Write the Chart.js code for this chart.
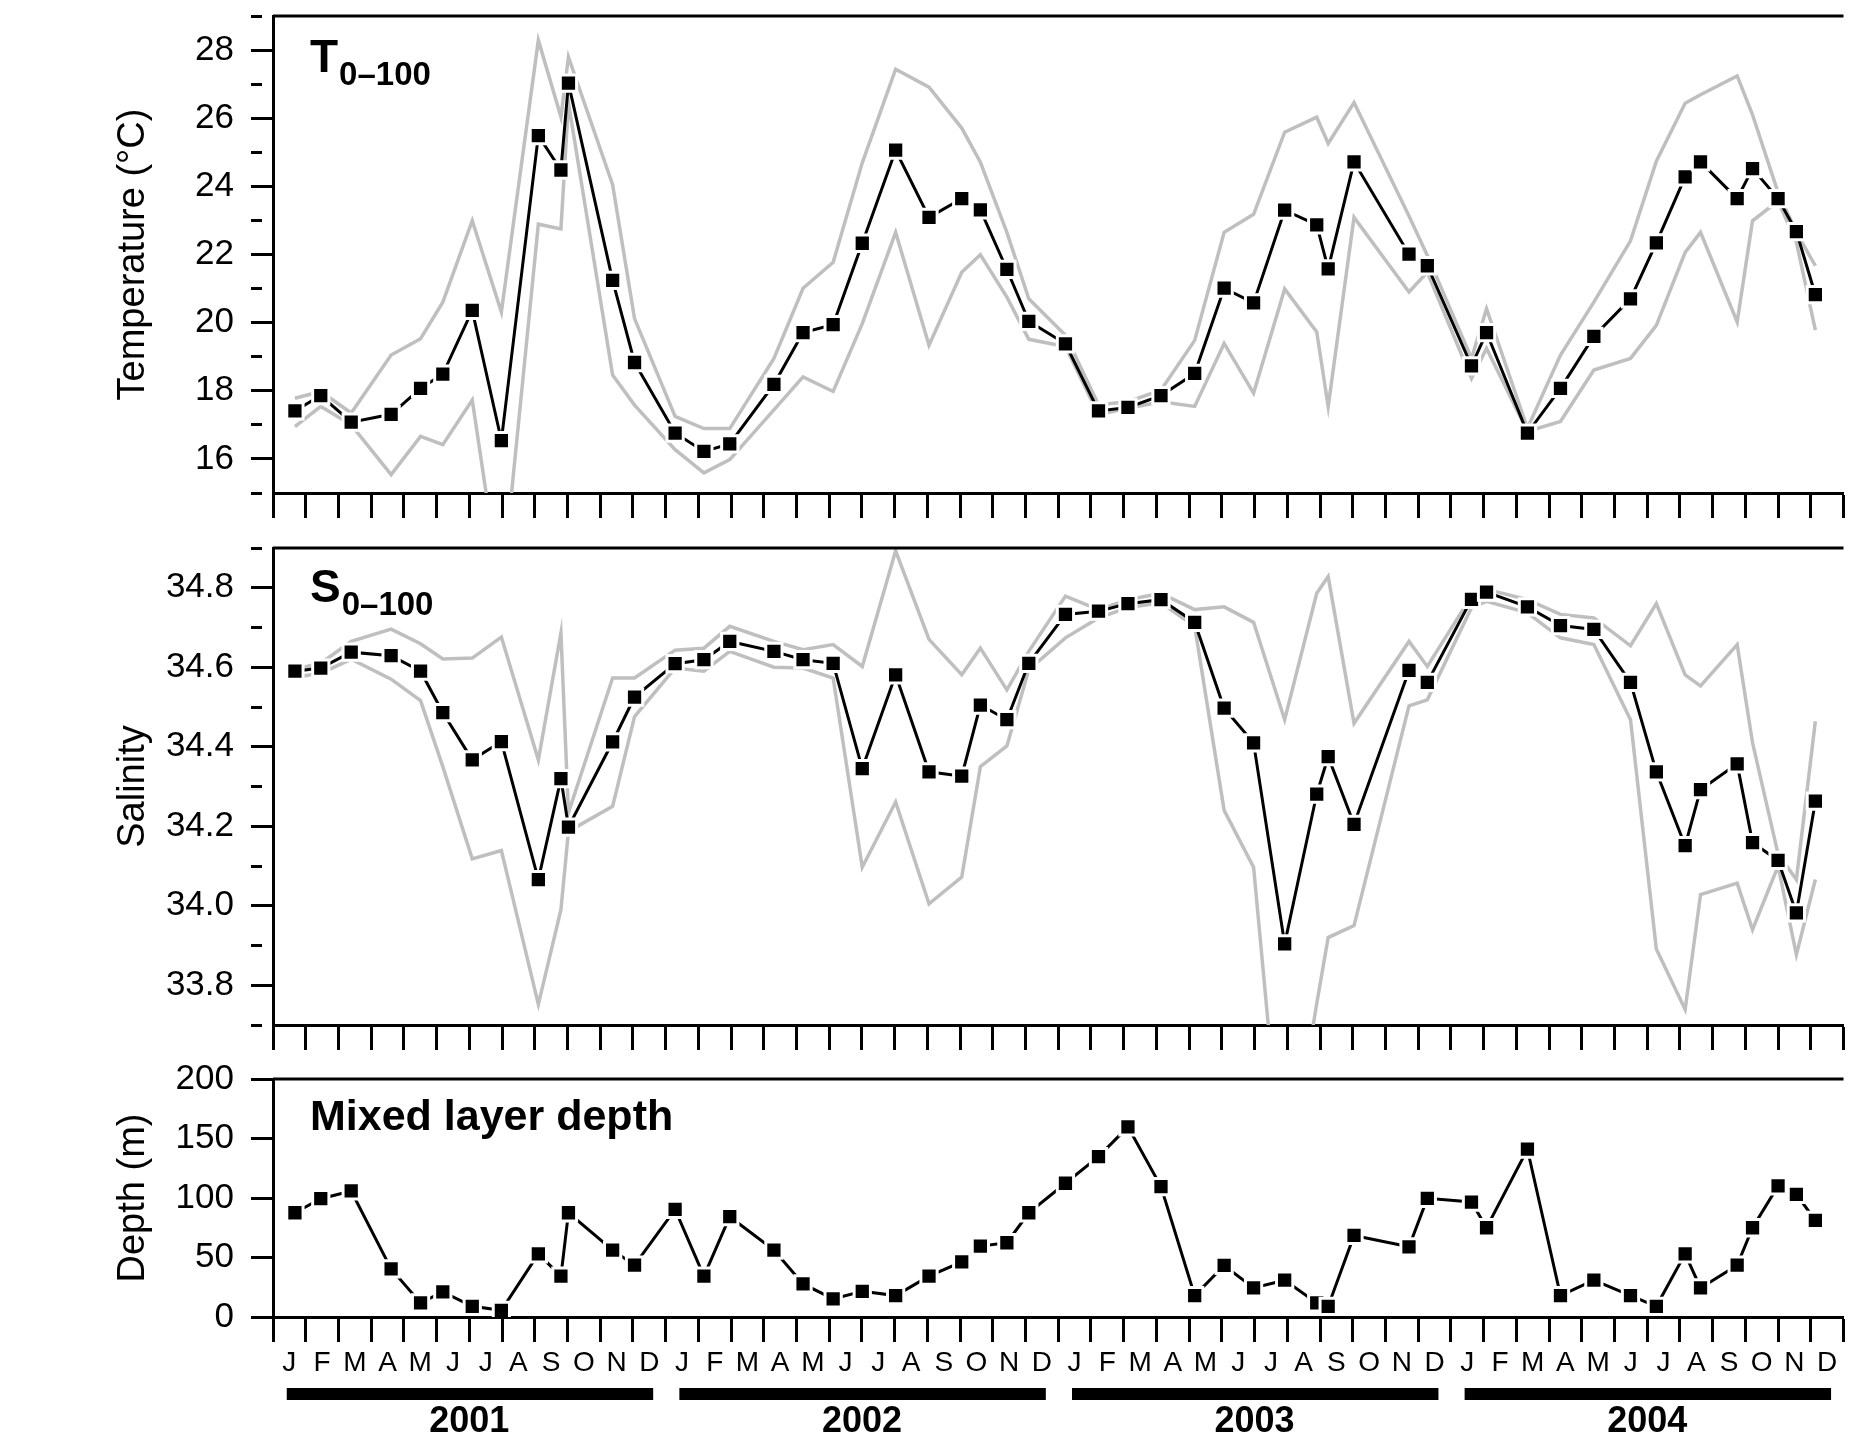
<!DOCTYPE html>
<html>
<head>
<meta charset="utf-8">
<script src="https://cdn.jsdelivr.net/npm/chart.js@4.4.0/dist/chart.umd.min.js"></script>
<style>
  html, body { margin: 0; padding: 0; background: #fff; }
  #wrap { position: relative; width: 1858px; height: 1440px; overflow: hidden; background: #fff; }
  #wrap canvas { position: absolute; left: 0; }
</style>
</head>
<body>
<div id="wrap">
  <canvas id="tempChart" width="1858" height="520" style="top:0;width:1858px;height:520px"></canvas>
  <canvas id="salChart" width="1858" height="532" style="top:520px;width:1858px;height:532px"></canvas>
  <canvas id="mldChart" width="1858" height="390" style="top:1050px;width:1858px;height:390px"></canvas>
</div>
<script>
// sampling times, in months since 1 Jan 2001
const sampleMonths = [
  0.67, 1.46, 2.39, 3.61, 4.51, 5.19, 6.09, 6.98, 8.11, 8.80, 9.03, 10.38, 11.05, 12.29,
  13.17, 13.96, 15.31, 16.20, 17.12, 18.01, 19.03, 20.05, 21.05, 21.62, 22.43, 23.10, 24.22,
  25.23, 26.13, 27.14, 28.17, 29.07, 29.97, 30.92,
  31.90, 32.25, 33.04, 34.72, 35.28, 36.63, 37.09, 38.34, 39.35, 40.37, 41.49, 42.28, 43.16,
  43.63, 44.75, 45.22, 46.00, 46.56, 47.14
];

// T 0-100 m (deg C): mean, upper and lower envelope
const tempMean = [
  17.41, 17.86, 17.08, 17.31, 18.07, 18.49, 20.36, 16.54, 25.49, 24.48, 27.03, 21.24, 18.83, 16.76,
  16.22, 16.44, 18.19, 19.71, 19.94, 22.33, 25.06, 23.09, 23.64, 23.31, 21.56, 20.04, 19.38,
  17.41, 17.51, 17.86, 18.51, 21.01, 20.58, 23.30,
  22.87, 21.58, 24.72, 22.01, 21.67, 18.73, 19.71, 16.76, 18.07, 19.60, 20.70, 22.34, 24.28,
  24.72, 23.64, 24.52, 23.64, 22.67, 20.82
];
const tempMax = [
  17.78, 17.98, 17.35, 19.05, 19.53, 20.60, 22.99, 20.31, 28.29, 26.04, 27.80, 24.05, 20.12, 17.25,
  16.89, 16.89, 18.95, 21.01, 21.77, 24.69, 27.44, 26.91, 25.71, 24.71, 22.65, 20.70, 19.63,
  17.59, 17.68, 18.02, 19.48, 22.65, 23.18, 25.59,
  26.03, 25.26, 26.46, 23.13, 21.97, 18.95, 20.41, 16.90, 19.05, 20.60, 22.40, 24.74, 26.44,
  26.69, 27.24, 26.10, 23.82, 22.65, 21.67
];
const tempMin = [
  16.95, 17.54, 17.00, 15.54, 16.66, 16.42, 17.73, 12.00, 22.89, 22.75, 26.45, 18.46, 17.58, 16.27,
  15.59, 15.98, 17.44, 18.41, 17.98, 19.97, 22.65, 19.34, 21.48, 21.99, 20.75, 19.51, 19.30,
  17.30, 17.49, 17.68, 17.54, 19.39, 17.93, 20.99,
  19.73, 17.54, 23.09, 20.90, 21.48, 18.36, 19.24, 16.81, 17.10, 18.61, 18.95, 19.92, 22.06,
  22.65, 20.02, 22.99, 23.57, 22.36, 19.78
];

// S 0-100 m: mean, upper and lower envelope
const salMean = [
  34.590, 34.598, 34.638, 34.629, 34.590, 34.486, 34.367, 34.413, 34.066, 34.320, 34.198, 34.412, 34.525, 34.609,
  34.619, 34.665, 34.640, 34.619, 34.610, 34.345, 34.581, 34.337, 34.326, 34.505, 34.468, 34.610, 34.733,
  34.741, 34.760, 34.770, 34.713, 34.497, 34.410, 33.904,
  34.281, 34.375, 34.205, 34.592, 34.562, 34.771, 34.789, 34.752, 34.705, 34.695, 34.562, 34.337, 34.151,
  34.292, 34.357, 34.159, 34.114, 33.982, 34.263
];
const salMax = [
  34.595, 34.610, 34.665, 34.696, 34.659, 34.621, 34.623, 34.676, 34.367, 34.686, 34.234, 34.573, 34.573, 34.643,
  34.648, 34.703, 34.665, 34.644, 34.657, 34.602, 34.893, 34.670, 34.581, 34.648, 34.543, 34.640, 34.779,
  34.745, 34.770, 34.786, 34.745, 34.752, 34.713, 34.468,
  34.786, 34.828, 34.459, 34.665, 34.602, 34.779, 34.796, 34.770, 34.733, 34.724, 34.654, 34.760, 34.581,
  34.553, 34.657, 34.410, 34.130, 34.066, 34.464
];
const salMin = [
  34.575, 34.585, 34.620, 34.570, 34.516, 34.350, 34.118, 34.139, 33.752, 33.990, 34.187, 34.250, 34.476, 34.598,
  34.590, 34.640, 34.600, 34.598, 34.573, 34.097, 34.261, 34.005, 34.072, 34.350, 34.402, 34.594, 34.674,
  34.724, 34.750, 34.762, 34.703, 34.240, 34.097, 33.256,
  33.754, 33.920, 33.950, 34.503, 34.518, 34.750, 34.766, 34.737, 34.674, 34.657, 34.468, 33.891, 33.739,
  34.028, 34.057, 33.940, 34.100, 33.877, 34.066
];

// mixed layer depth (m)
const mixedDepth = [
  87.6, 99.4, 105.9, 40.4, 11.8, 21.1, 9.0, 5.6, 53.1, 34.3, 87.6, 56.2, 43.5, 90.4,
  34.3, 84.3, 56.2, 27.8, 15.2, 21.6, 18.0, 34.3, 46.3, 59.6, 62.4, 87.6, 112.4,
  134.8, 159.8, 109.6, 18.0, 43.3, 24.4, 30.9,
  11.8, 9.0, 68.5, 59.0, 99.7, 96.6, 75.0, 141.0, 18.0, 30.9, 18.0, 9.0, 53.1,
  24.4, 43.5, 75.0, 110.1, 103.1, 81.2
];

const monthLetters = ['J', 'F', 'M', 'A', 'M', 'J', 'J', 'A', 'S', 'O', 'N', 'D'];
const years = ['2001', '2002', '2003', '2004'];
const tempTickLabels = [16, 18, 20, 22, 24, 26, 28];
const salTickLabels = ['33.8', '34.0', '34.2', '34.4', '34.6', '34.8'];
const depthTickLabels = [0, 50, 100, 150, 200];

const FONT = '"Liberation Sans", Arial, Helvetica, sans-serif';
const PLOT_LEFT = 273;
const MONTHS = 48;

Chart.defaults.font.family = FONT;
Chart.defaults.color = '#000';
Chart.defaults.animation = false;

function toPoints(ys) {
  return sampleMonths.map((m, i) => ({x: m, y: ys[i]}));
}

function meanSet(ys) {
  return {
    data: toPoints(ys),
    borderColor: '#000',
    borderWidth: 3,
    pointStyle: 'rect',
    pointRadius: 11.5,
    pointBackgroundColor: '#000',
    pointBorderColor: '#fff',
    pointBorderWidth: 3,
    order: 0
  };
}

function rangeSet(ys) {
  return {
    data: toPoints(ys),
    borderColor: '#bfbfbf',
    borderWidth: 3.5,
    pointRadius: 0,
    order: 1
  };
}

// x axis: ticks at month boundaries, optional month letters in between
function monthAxis(height, withLabels) {
  return {
    type: 'linear',
    position: 'bottom',
    min: 0,
    max: MONTHS,
    afterBuildTicks: axis => {
      const ticks = [];
      for (let m = 0; m <= MONTHS; m += withLabels ? 0.5 : 1) ticks.push({value: m});
      axis.ticks = ticks;
    },
    afterFit: s => { s.height = height; s.paddingLeft = 0; s.paddingRight = 0; },
    border: {display: true, color: '#000', width: 3},
    grid: {
      drawOnChartArea: false,
      drawTicks: true,
      tickLength: 25,
      tickWidth: 3,
      tickColor: c => (c.tick && c.tick.value % 1 !== 0) ? 'rgba(0,0,0,0)' : '#000'
    },
    ticks: {
      display: withLabels,
      autoSkip: false,
      maxRotation: 0,
      padding: 4,
      font: {size: 28},
      callback: v => (v % 1 !== 0) ? monthLetters[Math.floor(v) % 12] : ''
    }
  };
}

function valueAxis(min, max, step, isMajor, fmt, title) {
  return {
    type: 'linear',
    position: 'left',
    min: min,
    max: max,
    ticks: {
      stepSize: step,
      autoSkip: false,
      padding: 17,
      font: {size: 35},
      callback: v => isMajor(v) ? fmt(v) : ''
    },
    afterFit: s => { s.width = PLOT_LEFT; s.paddingTop = 0; s.paddingBottom = 0; },
    border: {display: true, color: '#000', width: 3},
    grid: {
      drawOnChartArea: false,
      drawTicks: true,
      tickLength: 22,
      tickWidth: 3,
      tickColor: '#000',
      tickBorderDash: c => (c.tick && isMajor(c.tick.value)) ? [] : [11, 40]
    },
    title: {
      display: true,
      text: title,
      font: {size: 38},
      padding: {top: 111, bottom: 0}
    }
  };
}

// top frame line and bold panel label with subscript
function panelDecor(main, sub, baseOffset, size) {
  return {
    id: 'panelDecor',
    afterDraw(chart) {
      const {ctx, chartArea} = chart;
      ctx.save();
      ctx.strokeStyle = '#000';
      ctx.lineWidth = 3;
      ctx.beginPath();
      ctx.moveTo(chartArea.left, chartArea.top);
      ctx.lineTo(chartArea.right, chartArea.top);
      ctx.stroke();

      ctx.fillStyle = '#000';
      ctx.textBaseline = 'alphabetic';
      ctx.textAlign = 'left';
      const x = chartArea.left + 37;
      const y = chartArea.top + baseOffset;
      ctx.font = 'bold ' + size + 'px ' + FONT;
      ctx.fillText(main, x, y);
      if (sub) {
        const w = ctx.measureText(main).width;
        ctx.font = 'bold 33px ' + FONT;
        ctx.fillText(sub, x + w + 1, y + 13);
      }
      ctx.restore();
    }
  };
}

const yearBars = {
  id: 'yearBars',
  afterDraw(chart) {
    const x = chart.scales.x;
    const yr = chart.scales.xYear;
    const ctx = chart.ctx;
    ctx.save();
    ctx.fillStyle = '#000';
    years.forEach((_, i) => {
      const a = x.getPixelForValue(i * 12 + 0.42);
      const b = x.getPixelForValue(i * 12 + 11.62);
      ctx.fillRect(a, yr.top + 8, b - a, 12);
    });
    ctx.restore();
  }
};

const baseOptions = (padTop, scales) => ({
  responsive: false,
  animation: false,
  layout: {padding: {top: padTop, left: 0, right: 0, bottom: 0}},
  plugins: {legend: {display: false}, tooltip: {enabled: false}},
  scales: scales
});

new Chart(document.getElementById('tempChart'), {
  type: 'line',
  data: {datasets: [meanSet(tempMean), rangeSet(tempMax), rangeSet(tempMin)]},
  options: baseOptions(16, {
    x: monthAxis(27, false),
    y: valueAxis(15, 29, 1, v => tempTickLabels.includes(Math.round(v)) && Math.abs(v - Math.round(v)) < 1e-6,
      v => String(v), 'Temperature (°C)')
  }),
  plugins: [panelDecor('T', '0–100', 56, 46)]
});

new Chart(document.getElementById('salChart'), {
  type: 'line',
  data: {datasets: [meanSet(salMean), rangeSet(salMax), rangeSet(salMin)]},
  options: baseOptions(28, {
    x: monthAxis(27, false),
    y: valueAxis(33.7, 34.9, 0.1, v => salTickLabels.includes(Number(v).toFixed(1)),
      v => Number(v).toFixed(1), 'Salinity')
  }),
  plugins: [panelDecor('S', '0–100', 54, 46)]
});

new Chart(document.getElementById('mldChart'), {
  type: 'line',
  data: {datasets: [meanSet(mixedDepth)]},
  options: baseOptions(29, {
    x: monthAxis(63, true),
    xYear: {
      type: 'linear',
      position: 'bottom',
      weight: 1,
      min: 0,
      max: MONTHS,
      afterBuildTicks: axis => { axis.ticks = years.map((_, i) => ({value: i * 12 + 6})); },
      afterFit: s => { s.height = 60; s.paddingLeft = 0; s.paddingRight = 0; },
      border: {display: false},
      grid: {display: false, drawTicks: false},
      ticks: {
        autoSkip: false,
        maxRotation: 0,
        padding: 20,
        font: {size: 36, weight: 'bold'},
        callback: v => years[Math.round((v - 6) / 12)]
      }
    },
    y: valueAxis(0, 200, 50, v => depthTickLabels.includes(v), v => String(v), 'Depth (m)')
  }),
  plugins: [panelDecor('Mixed layer depth', '', 51, 43), yearBars]
});
</script>
</body>
</html>
